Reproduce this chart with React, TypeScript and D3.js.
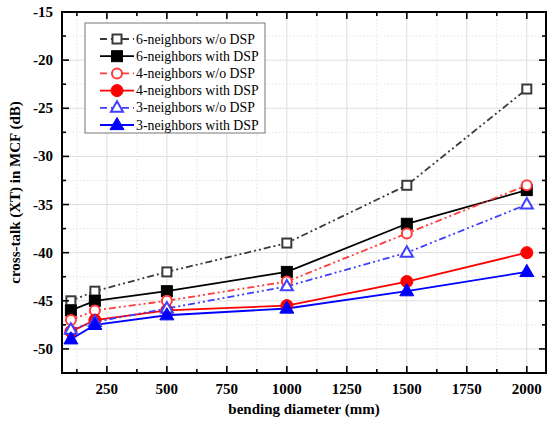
import React from "react";
import * as d3 from "d3";

const diameters = [100, 200, 500, 1000, 1500, 2000];
const sixNoDsp = [-45, -44, -42, -39, -33, -23];
const sixDsp = [-46, -45, -44, -42, -37, -33.5];
const fourNoDsp = [-47, -46, -45, -43, -38, -33];
const fourDsp = [-48.2, -47, -46, -45.5, -43, -40];
const threeNoDsp = [-48, -47.2, -45.8, -43.5, -40, -35];
const threeDsp = [-49, -47.5, -46.5, -45.8, -44, -42];

const xTicks = [250, 500, 750, 1000, 1250, 1500, 1750, 2000];
const yTicks = [-50, -45, -40, -35, -30, -25, -20, -15];

const series = [
  { name: "6-neighbors w/o DSP", values: sixNoDsp, color: "#3a3a3a", dash: "7,3,2,3,2,3", marker: "square", filled: false },
  { name: "6-neighbors with DSP", values: sixDsp, color: "#000000", dash: null, marker: "square", filled: true },
  { name: "4-neighbors w/o DSP", values: fourNoDsp, color: "#ff3b3b", dash: "7,3,2,3,2,3", marker: "circle", filled: false },
  { name: "4-neighbors with DSP", values: fourDsp, color: "#ff0000", dash: null, marker: "circle", filled: true },
  { name: "3-neighbors w/o DSP", values: threeNoDsp, color: "#3f3fff", dash: "7,3,2,3,2,3", marker: "triangle", filled: false },
  { name: "3-neighbors with DSP", values: threeDsp, color: "#0000ff", dash: null, marker: "triangle", filled: true },
];

const W = 548;
const H = 421;
const m = { left: 62, right: 546, top: 12, bottom: 373 };

const Marker = ({ type, x, y, color, filled }) => {
  const fill = filled ? color : "white";
  const sw = filled ? 1 : 2;
  if (type === "square") {
    const s = filled ? 11 : 9;
    return <rect x={x - s / 2} y={y - s / 2} width={s} height={s} fill={fill} stroke={color} strokeWidth={sw} />;
  }
  if (type === "circle") {
    const r = filled ? 6 : 5;
    return <circle cx={x} cy={y} r={r} fill={fill} stroke={color} strokeWidth={sw} />;
  }
  const s = filled ? 14 : 12;
  const h = s * 0.87;
  return (
    <path
      d={`M${x},${y - h * 0.62}L${x + s / 2},${y + h * 0.38}L${x - s / 2},${y + h * 0.38}Z`}
      fill={fill}
      stroke={color}
      strokeWidth={sw}
      strokeLinejoin="miter"
    />
  );
};

const App = () => {
  const x = d3.scaleLinear().domain([63, 2080]).range([m.left, m.right]);
  const y = d3.scaleLinear().domain([-52.5, -15]).range([m.bottom, m.top]);

  const xMinor = d3.range(125, 2080, 125);
  const yMinor = d3.range(-52.5, -15, 2.5);

  const line = d3
    .line<number>()
    .x((_, i) => x(diameters[i]))
    .y((d) => y(d));

  const font = "'Liberation Serif', 'Times New Roman', serif";

  return (
    <svg
      width={W}
      height={H}
      style={{ position: "absolute", left: 0, top: 0, background: "white" }}
      fontFamily={font}
    >
      {/* grid */}
      {xMinor.map((t) => (
        <line
          key={"gx" + t}
          x1={x(t)}
          x2={x(t)}
          y1={m.top}
          y2={m.bottom}
          stroke={t % 250 === 0 ? "#dedede" : "#e4e4e4"}
          strokeWidth={1}
          strokeDasharray={t % 250 === 0 ? null : "1.5,2"}
        />
      ))}
      {yMinor.map((t) => (
        <line
          key={"gy" + t}
          x1={m.left}
          x2={m.right}
          y1={y(t)}
          y2={y(t)}
          stroke={t % 5 === 0 ? "#dedede" : "#e4e4e4"}
          strokeWidth={1}
          strokeDasharray={t % 5 === 0 ? null : "1.5,2"}
        />
      ))}

      {/* series */}
      {series.map((s) => (
        <path
          key={s.name}
          d={line(s.values)}
          fill="none"
          stroke={s.color}
          strokeWidth={1.8}
          strokeDasharray={s.dash}
        />
      ))}
      {series.map((s) =>
        s.values.map((v, i) => (
          <Marker
            key={s.name + i}
            type={s.marker}
            x={x(diameters[i])}
            y={y(v)}
            color={s.color}
            filled={s.filled}
          />
        ))
      )}

      {/* frame */}
      <rect
        x={m.left}
        y={m.top}
        width={m.right - m.left}
        height={m.bottom - m.top}
        fill="none"
        stroke="black"
        strokeWidth={2}
      />

      {/* ticks */}
      {xMinor.map((t) => {
        const len = t % 250 === 0 ? 7 : 4;
        return (
          <g key={"tx" + t} stroke="black" strokeWidth={1.6}>
            <line x1={x(t)} x2={x(t)} y1={m.bottom} y2={m.bottom - len} />
            <line x1={x(t)} x2={x(t)} y1={m.top} y2={m.top + len} />
          </g>
        );
      })}
      {yMinor.map((t) => {
        const len = t % 5 === 0 ? 7 : 4;
        return (
          <g key={"ty" + t} stroke="black" strokeWidth={1.6}>
            <line x1={m.left} x2={m.left + len} y1={y(t)} y2={y(t)} />
            <line x1={m.right} x2={m.right - len} y1={y(t)} y2={y(t)} />
          </g>
        );
      })}

      {/* tick labels */}
      {xTicks.map((t) => (
        <text
          key={"lx" + t}
          x={x(t)}
          y={m.bottom + 21}
          textAnchor="middle"
          fontSize={15}
          fontWeight="bold"
        >
          {t}
        </text>
      ))}
      {yTicks.map((t) => (
        <text
          key={"ly" + t}
          x={m.left - 9}
          y={y(t) + 5}
          textAnchor="end"
          fontSize={15}
          fontWeight="bold"
        >
          {t}
        </text>
      ))}

      {/* axis titles */}
      <text
        x={(m.left + m.right) / 2}
        y={414}
        textAnchor="middle"
        fontSize={15}
        fontWeight="bold"
      >
        bending diameter (mm)
      </text>
      <text
        transform={`translate(20,${(m.top + m.bottom) / 2}) rotate(-90)`}
        textAnchor="middle"
        fontSize={15}
        fontWeight="bold"
      >
        cross-talk (XT) in MCF (dB)
      </text>

      {/* legend */}
      <g transform="translate(85,23)">
        <rect x={0} y={0} width={180} height={110} fill="white" stroke="#777" strokeWidth={1} />
        {series.map((s, i) => {
          const ly = 16 + i * 17.2;
          return (
            <g key={"lg" + s.name}>
              <line
                x1={15}
                x2={49}
                y1={ly}
                y2={ly}
                stroke={s.color}
                strokeWidth={1.8}
                strokeDasharray={s.dash ? "7,4" : null}
              />
              <Marker type={s.marker} x={32} y={ly} color={s.color} filled={s.filled} />
              <text x={51} y={ly + 4.5} fontSize={13.8} fill="#000">
                {s.name}
              </text>
            </g>
          );
        })}
      </g>
    </svg>
  );
};

export default App;
